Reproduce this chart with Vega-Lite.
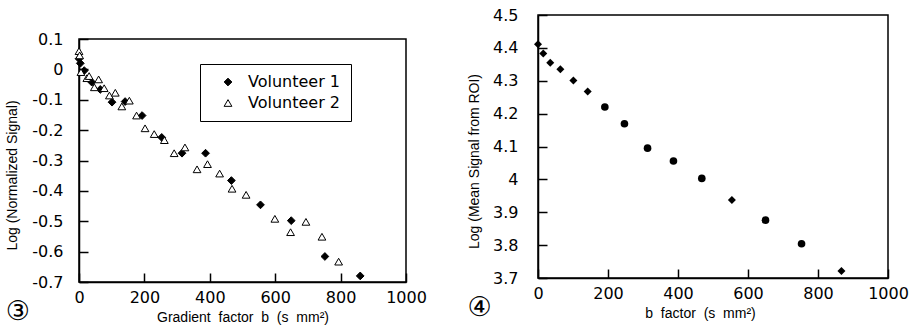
{
  "$schema": "https://vega.github.io/schema/vega-lite/v6.json",
  "background": "white",
  "padding": {"left": 5, "top": 6, "right": 5, "bottom": 2},
  "datasets": {
    "fig3": [
      {"b": 0, "logsig": 0.035, "volunteer": "Volunteer 1"},
      {"b": 4, "logsig": 0.02, "volunteer": "Volunteer 1"},
      {"b": 16, "logsig": -0.004, "volunteer": "Volunteer 1"},
      {"b": 39, "logsig": -0.042, "volunteer": "Volunteer 1"},
      {"b": 65, "logsig": -0.066, "volunteer": "Volunteer 1"},
      {"b": 101, "logsig": -0.108, "volunteer": "Volunteer 1"},
      {"b": 141, "logsig": -0.106, "volunteer": "Volunteer 1"},
      {"b": 193, "logsig": -0.152, "volunteer": "Volunteer 1"},
      {"b": 253, "logsig": -0.224, "volunteer": "Volunteer 1"},
      {"b": 315, "logsig": -0.276, "volunteer": "Volunteer 1"},
      {"b": 387, "logsig": -0.276, "volunteer": "Volunteer 1"},
      {"b": 466, "logsig": -0.366, "volunteer": "Volunteer 1"},
      {"b": 555, "logsig": -0.446, "volunteer": "Volunteer 1"},
      {"b": 649, "logsig": -0.498, "volunteer": "Volunteer 1"},
      {"b": 752, "logsig": -0.616, "volunteer": "Volunteer 1"},
      {"b": 860, "logsig": -0.68, "volunteer": "Volunteer 1"},
      {"b": 0, "logsig": 0.06, "volunteer": "Volunteer 2"},
      {"b": 2, "logsig": 0.046, "volunteer": "Volunteer 2"},
      {"b": 6, "logsig": -0.009, "volunteer": "Volunteer 2"},
      {"b": 24, "logsig": -0.029, "volunteer": "Volunteer 2"},
      {"b": 31, "logsig": -0.022, "volunteer": "Volunteer 2"},
      {"b": 47, "logsig": -0.059, "volunteer": "Volunteer 2"},
      {"b": 60, "logsig": -0.033, "volunteer": "Volunteer 2"},
      {"b": 77, "logsig": -0.062, "volunteer": "Volunteer 2"},
      {"b": 93, "logsig": -0.086, "volunteer": "Volunteer 2"},
      {"b": 111, "logsig": -0.077, "volunteer": "Volunteer 2"},
      {"b": 131, "logsig": -0.122, "volunteer": "Volunteer 2"},
      {"b": 154, "logsig": -0.103, "volunteer": "Volunteer 2"},
      {"b": 176, "logsig": -0.152, "volunteer": "Volunteer 2"},
      {"b": 202, "logsig": -0.194, "volunteer": "Volunteer 2"},
      {"b": 230, "logsig": -0.213, "volunteer": "Volunteer 2"},
      {"b": 261, "logsig": -0.233, "volunteer": "Volunteer 2"},
      {"b": 291, "logsig": -0.276, "volunteer": "Volunteer 2"},
      {"b": 324, "logsig": -0.257, "volunteer": "Volunteer 2"},
      {"b": 361, "logsig": -0.329, "volunteer": "Volunteer 2"},
      {"b": 393, "logsig": -0.312, "volunteer": "Volunteer 2"},
      {"b": 430, "logsig": -0.343, "volunteer": "Volunteer 2"},
      {"b": 468, "logsig": -0.393, "volunteer": "Volunteer 2"},
      {"b": 511, "logsig": -0.413, "volunteer": "Volunteer 2"},
      {"b": 599, "logsig": -0.492, "volunteer": "Volunteer 2"},
      {"b": 647, "logsig": -0.536, "volunteer": "Volunteer 2"},
      {"b": 694, "logsig": -0.502, "volunteer": "Volunteer 2"},
      {"b": 743, "logsig": -0.551, "volunteer": "Volunteer 2"},
      {"b": 794, "logsig": -0.633, "volunteer": "Volunteer 2"}
    ],
    "fig4": [
      {"b": 0, "meansig": 4.411, "series": "A"},
      {"b": 15, "meansig": 4.383, "series": "A"},
      {"b": 35, "meansig": 4.355, "series": "A"},
      {"b": 64, "meansig": 4.335, "series": "A"},
      {"b": 101, "meansig": 4.301, "series": "A"},
      {"b": 142, "meansig": 4.267, "series": "A"},
      {"b": 191, "meansig": 4.22, "series": "B"},
      {"b": 247, "meansig": 4.169, "series": "B"},
      {"b": 313, "meansig": 4.095, "series": "B"},
      {"b": 387, "meansig": 4.056, "series": "B"},
      {"b": 468, "meansig": 4.003, "series": "B"},
      {"b": 554, "meansig": 3.937, "series": "A"},
      {"b": 650, "meansig": 3.876, "series": "B"},
      {"b": 753, "meansig": 3.804, "series": "B"},
      {"b": 867, "meansig": 3.721, "series": "A"}
    ]
  },
  "config": {
    "view": {"stroke": "black", "strokeWidth": 1.5},
    "font": "Liberation Sans",
    "axis": {
      "grid": false,
      "domain": true,
      "ticks": true,
      "domainColor": "black",
      "domainWidth": 1.5,
      "tickColor": "black",
      "tickWidth": 1.5,
      "labelFont": "DejaVu Sans",
      "labelFontSize": 16,
      "labelColor": "black",
      "labelFlush": false,
      "labelOverlap": false,
      "titleFont": "Liberation Sans",
      "titleFontSize": 14,
      "titleFontWeight": "normal",
      "titleColor": "black"
    },
    "title": {"font": "DejaVu Sans", "fontSize": 27, "fontWeight": "normal", "color": "black"}
  },
  "resolve": {"scale": {"shape": "independent", "fill": "independent", "stroke": "independent", "size": "independent"}, "legend": {"shape": "independent", "fill": "independent", "stroke": "independent", "size": "independent"}},
  "hconcat": [
    {
      "spacing": 14,
      "vconcat": [
        {"data": {"values": []}, "mark": "point", "width": 327, "height": 1, "view": {"stroke": null}},
        {
          "width": 327,
          "height": 243,
          "title": {"text": "③", "orient": "bottom", "anchor": "start", "frame": "bounds", "offset": -25},
          "data": {"name": "fig3"},
          "mark": {"type": "point", "filled": true, "strokeWidth": 1, "opacity": 1, "size": 60},
          "encoding": {
            "x": {"field": "b", "type": "quantitative", "scale": {"domain": [0, 1000], "nice": false},
                  "axis": {"values": [0, 200, 400, 600, 800, 1000], "format": "d", "tickSize": -9, "labelPadding": 16, "titlePadding": 5,
                           "title": "Gradient\u00a0 factor\u00a0 b\u00a0 (s\u00a0 mm²)"}},
            "y": {"field": "logsig", "type": "quantitative", "scale": {"domain": [-0.7, 0.1], "nice": false, "zero": false},
                  "axis": {"values": [-0.7, -0.6, -0.5, -0.4, -0.3, -0.2, -0.1, 0, 0.1], "tickSize": -9, "labelPadding": 25, "titlePadding": 12, "titleY": 136,
                           "labelExpr": "datum.value < 0 ? '-' + format(-datum.value, '.1~f') : format(datum.value, '.1~f')",
                           "title": "Log (Normalized Signal)"}},
            "shape": {"field": "volunteer", "type": "nominal", "scale": {"domain": ["Volunteer 1", "Volunteer 2"], "range": ["diamond", "triangle-up"]},
                      "legend": {"title": null, "orient": "none", "legendX": 121, "legendY": 49, "strokeColor": "black", "fillColor": "white", "padding": 10,
                                 "labelFont": "DejaVu Sans", "labelFontSize": 16, "labelColor": "black", "labelOffset": 12, "symbolOffset": 10,
                                 "symbolSize": 60, "symbolStrokeWidth": 1, "rowPadding": 5}},
            "fill": {"field": "volunteer", "type": "nominal", "scale": {"domain": ["Volunteer 1", "Volunteer 2"], "range": ["black", "white"]}},
            "stroke": {"field": "volunteer", "type": "nominal", "scale": {"domain": ["Volunteer 1", "Volunteer 2"], "range": ["black", "black"]}}
          }
        }
      ]
    },
    {
      "width": 350,
      "height": 263,
      "title": {"text": "④", "orient": "bottom", "anchor": "start", "frame": "bounds", "offset": -25},
      "data": {"name": "fig4"},
      "mark": {"type": "point", "filled": true, "color": "black", "opacity": 1},
      "encoding": {
        "x": {"field": "b", "type": "quantitative", "scale": {"domain": [0, 1000], "nice": false},
              "axis": {"values": [0, 200, 400, 600, 800, 1000], "format": "d", "tickSize": -9, "labelPadding": 16, "titlePadding": 5, "titleX": 162,
                       "title": "b\u00a0 factor\u00a0 (s\u00a0 mm²)"}},
        "y": {"field": "meansig", "type": "quantitative", "scale": {"domain": [3.7, 4.5], "nice": false, "zero": false},
              "axis": {"values": [3.7, 3.8, 3.9, 4, 4.1, 4.2, 4.3, 4.4, 4.5], "format": ".1~f", "tickSize": -9, "labelPadding": 29, "titlePadding": 11, "titleY": 146,
                       "title": "Log (Mean Signal from ROI)"}},
        "shape": {"field": "series", "type": "nominal", "scale": {"domain": ["A", "B"], "range": ["diamond", "circle"]}, "legend": null},
        "size": {"field": "series", "type": "nominal", "scale": {"domain": ["A", "B"], "range": [64, 58]}, "legend": null}
      }
    }
  ],
  "spacing": 38
}
